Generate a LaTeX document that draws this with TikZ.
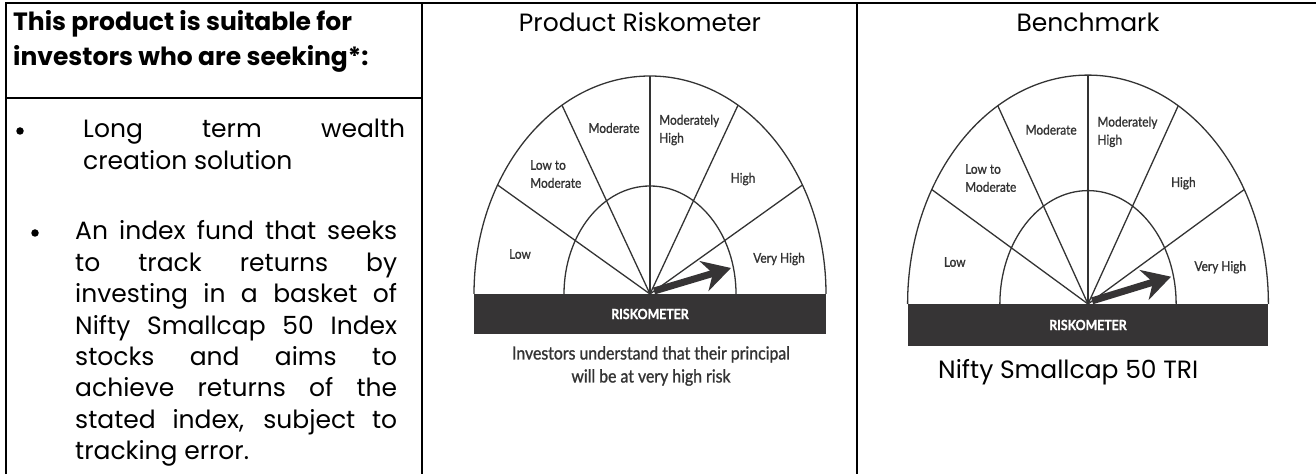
\documentclass[tikz,border=0pt]{standalone}
\usepackage{fontspec}
\setmainfont{Poppins}
\newfontfamily\meterfont{Lato}[FakeStretch=0.88, FakeBold=1.2]
\usetikzlibrary{arrows.meta}

\definecolor{ink}{HTML}{333333}
\definecolor{barfill}{HTML}{363435}

\tikzset{
  rule/.style={line width=2pt},
  dial/.style={draw=ink, line width=1.3pt},
  lbl/.style={font=\meterfont\fontsize{13.5}{18}\selectfont, text=ink, inner sep=0pt},
  pointer/.style={draw=barfill, line width=7pt, -{Stealth[length=28pt, width=31pt]}},
  head/.style={anchor=base west, inner sep=0pt, align=left, font=\bfseries\fontsize{25}{35}\selectfont},
  coltitle/.style={anchor=base, inner sep=0pt, font=\fontsize{25}{30}\selectfont},
  itemtext/.style={anchor=base west, text width=322pt, align=justify, inner sep=0pt,
    font=\fontsize{25}{31.4}\selectfont,
    execute at begin node={\tolerance=10000\relax\hbadness=10000\relax}},
  dot/.style={circle, fill=black, inner sep=0pt, minimum size=7.5pt},
  meter/.pic={
    \fill[barfill] (-176,0) rectangle (176,-40);
    \draw[dial] (-176,0) arc[start angle=180, end angle=0, x radius=176, y radius=218];
    \draw[dial] (-86,0) arc[start angle=180, end angle=0, x radius=86, y radius=108];
    \foreach \a in {30,60,...,150}
      \draw[dial] (0,0) -- (\a:176 and 218);
    \coordinate (-c) at (4,3);
    \coordinate (-tip) at (81,26);
    \draw[pointer] (-c) -- (-tip);
    \node[lbl] (-low) at (-130,40) {Low};
    \node[lbl, align=left, anchor=west] (-lowmod) at (-120,120) {Low to\\Moderate};
    \node[lbl] (-mod) at (-36,166) {Moderate};
    \node[lbl, align=left, anchor=west] (-modhigh) at (9,164) {Moderately\\High};
    \node[lbl] (-high) at (93,115) {High};
    \node[lbl] (-vhigh) at (129,35) {Very High};
    \node[lbl, text=white, font=\meterfont\bfseries\fontsize{14}{16}\selectfont] (-name) at (0,-20) {RISKOMETER};
  }
}

\begin{document}
\begin{tikzpicture}[x=1pt, y=1pt]
\useasboundingbox (0,0) rectangle (1316,474);

% table rules
\coordinate (tl) at (6,471);
\coordinate (tr) at (1316,471);
\coordinate (bl) at (6,0);
\draw[rule] (bl) -- (tl) -- (tr);
\draw[rule] (422,471) -- (422,0);
\draw[rule] (857,471) -- (857,0);
\draw[rule] (6,376) -- (422,376);

\node[head] (seek) at (13,408) {This product is suitable for\\investors who are seeking*:};

\node[dot] (dot1) at (20,343) {};
\node[itemtext] (item1) at (83,336) {Long term wealth\linebreak creation solution};
\node[dot] (dot2) at (35,241) {};
\node[itemtext] (item2) at (75,234) {An index fund that seeks\linebreak to track returns by\linebreak investing in a basket of\linebreak Nifty Smallcap 50 Index\linebreak stocks and aims to\linebreak achieve returns of the\linebreak stated index, subject to\linebreak tracking error.};

\node[coltitle] (prod) at (640,442) {Product Riskometer};
\node[coltitle] (bench) at (1088,442) {Benchmark};

\pic (m1) at (650,180) {meter};
\pic[xscale=1.025, yscale=1.05] (m2) at (1088,170) {meter};

\node[lbl, align=center, font=\meterfont\fontsize{18}{23}\selectfont] (caption) at (651,108) {Investors understand that their principal\\will be at very high risk};
\node[coltitle, anchor=west] (tri) at (938,102) {Nifty Smallcap 50 TRI};

\end{tikzpicture}
\end{document}
